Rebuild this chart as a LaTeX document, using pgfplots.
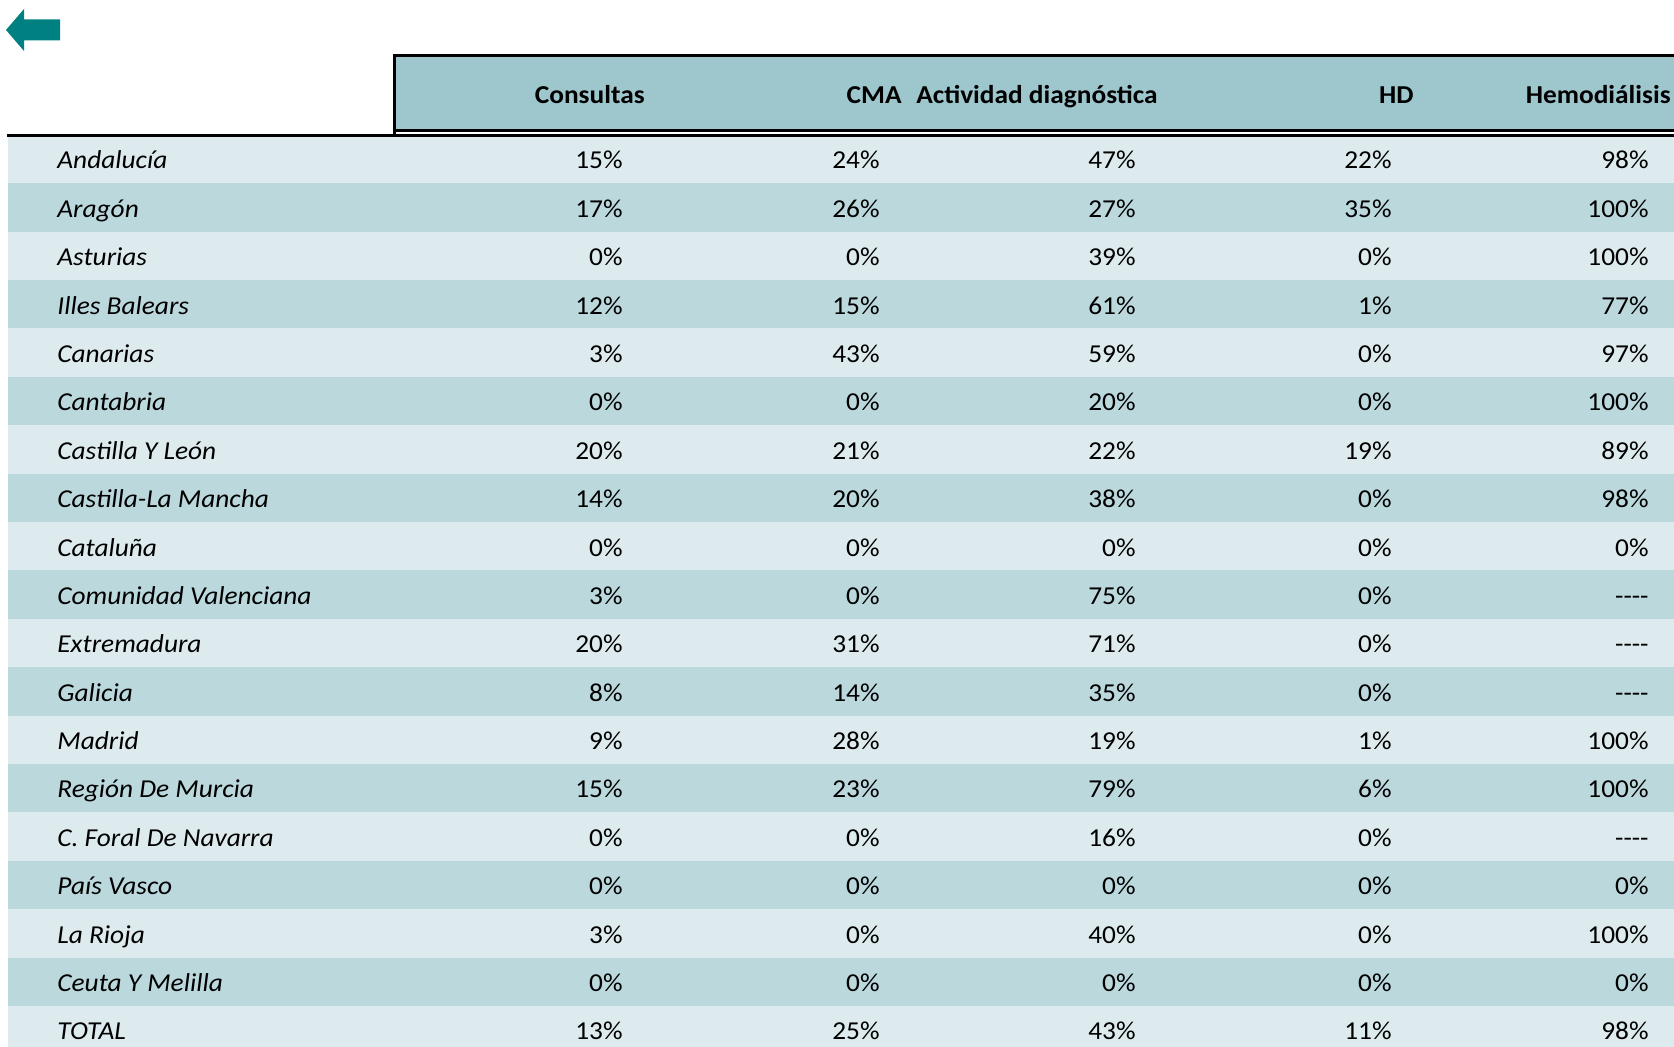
\documentclass[border=0pt]{standalone}
\usepackage{fontspec}
\setmainfont{Carlito}[FakeStretch=1.06]
\usepackage{pgfplots}
\usepackage{pgfplotstable}
\pgfplotsset{compat=1.18}
\definecolor{hdr}{RGB}{157,198,205}
\definecolor{rowA}{RGB}{221,235,238}
\definecolor{rowB}{RGB}{187,216,221}
\definecolor{arrowc}{RGB}{0,128,128}

\pgfplotstableread{
row name cons cma act hd hemo
0 Andalucía 15 24 47 22 98
1 Aragón 17 26 27 35 100
2 Asturias 0 0 39 0 100
3 {Illes Balears} 12 15 61 1 77
4 Canarias 3 43 59 0 97
5 Cantabria 0 0 20 0 100
6 {Castilla Y León} 20 21 22 19 89
7 {Castilla-La Mancha} 14 20 38 0 98
8 Cataluña 0 0 0 0 0
9 {Comunidad Valenciana} 3 0 75 0 -1
10 Extremadura 20 31 71 0 -1
11 Galicia 8 14 35 0 -1
12 Madrid 9 28 19 1 100
13 {Región De Murcia} 15 23 79 6 100
14 {C. Foral De Navarra} 0 0 16 0 -1
15 {País Vasco} 0 0 0 0 0
16 {La Rioja} 3 0 40 0 100
17 {Ceuta Y Melilla} 0 0 0 0 0
18 TOTAL 13 25 43 11 98
}\datatable

\newcommand\txt{\fontsize{12.9}{14}\selectfont}

\begin{document}
\begin{tikzpicture}
\path[use as bounding box] (0,0) rectangle (837pt,523.5pt);
\begin{axis}[at={(0,0)}, anchor=south west, scale only axis,
  width=837pt, height=523.5pt,
  xmin=0, xmax=1674, ymin=0, ymax=1047, y dir=reverse,
  hide axis, clip=false,
  point meta=explicit symbolic,
  every node near coord/.append style={font=\txt, inner sep=0pt, anchor=base east, yshift=-4.9pt, text=black},
]
% row backgrounds
\pgfplotsinvokeforeach{0,2,...,16}{
  \fill[rowA] (axis cs:8,{159.1+48.39*#1-24.2}) rectangle (axis cs:1674,{159.1+48.39*#1+24.2});
}
\fill[rowA] (axis cs:8,{159.1+48.39*18-24.2}) rectangle (axis cs:1674,1047);
\pgfplotsinvokeforeach{1,3,...,17}{
  \fill[rowB] (axis cs:8,{159.1+48.39*#1-24.2}) rectangle (axis cs:1674,{159.1+48.39*#1+24.2});
}
% header
\fill[hdr] (axis cs:394,55) rectangle (axis cs:1674,131);
\draw[line width=1.3pt] (axis cs:1680,55.5) -- (axis cs:394.5,55.5) -- (axis cs:394.5,136.5);
\draw[line width=1.1pt] (axis cs:394,130.5) -- (axis cs:1674,130.5);
\draw[line width=1.3pt] (axis cs:7,135.5) -- (axis cs:1674,135.5);
\node[anchor=base east, inner sep=0pt, font=\txt\bfseries] at (axis cs:645,104) {Consultas};
\node[anchor=base east, inner sep=0pt, font=\txt\bfseries] at (axis cs:902,104) {CMA};
\node[anchor=base east, inner sep=0pt, font=\txt\bfseries] at (axis cs:1158,104) {Actividad diagnóstica};
\node[anchor=base east, inner sep=0pt, font=\txt\bfseries] at (axis cs:1414,104) {HD};
\node[anchor=base east, inner sep=0pt, font=\txt\bfseries] at (axis cs:1671,104) {Hemodiálisis};
% arrow
\fill[arrowc] (axis cs:6,30) -- (axis cs:24,9) -- (axis cs:24,19.5) -- (axis cs:60,19.5)
  -- (axis cs:60,40.5) -- (axis cs:24,40.5) -- (axis cs:24,51) -- cycle;
% names
\addplot[draw=none, mark=none, nodes near coords={\itshape\pgfplotspointmeta},
  every node near coord/.append style={anchor=base west}]
  table[x expr=57, y expr=159.1+48.39*\thisrow{row}, meta=name]{\datatable};
% values
\addplot[draw=none, mark=none, nodes near coords={\pgfplotspointmeta\%}]
  table[x expr=623, y expr=159.1+48.39*\thisrow{row}, meta=cons]{\datatable};
\addplot[draw=none, mark=none, nodes near coords={\pgfplotspointmeta\%}]
  table[x expr=880, y expr=159.1+48.39*\thisrow{row}, meta=cma]{\datatable};
\addplot[draw=none, mark=none, nodes near coords={\pgfplotspointmeta\%}]
  table[x expr=1136, y expr=159.1+48.39*\thisrow{row}, meta=act]{\datatable};
\addplot[draw=none, mark=none, nodes near coords={\pgfplotspointmeta\%}]
  table[x expr=1392, y expr=159.1+48.39*\thisrow{row}, meta=hd]{\datatable};
\addplot[draw=none, mark=none, nodes near coords={\pgfplotspointmeta\%},
  restrict expr to domain={\thisrow{hemo}}{0:200}]
  table[x expr=1649, y expr=159.1+48.39*\thisrow{row}, meta=hemo]{\datatable};
\addplot[draw=none, mark=none, nodes near coords={\hbox{-}\hbox{-}\hbox{-}\hbox{-}},
  restrict expr to domain={\thisrow{hemo}}{-2:-0.5}]
  table[x expr=1649, y expr=159.1+48.39*\thisrow{row}, meta=hemo]{\datatable};
\end{axis}
\end{tikzpicture}
\end{document}
